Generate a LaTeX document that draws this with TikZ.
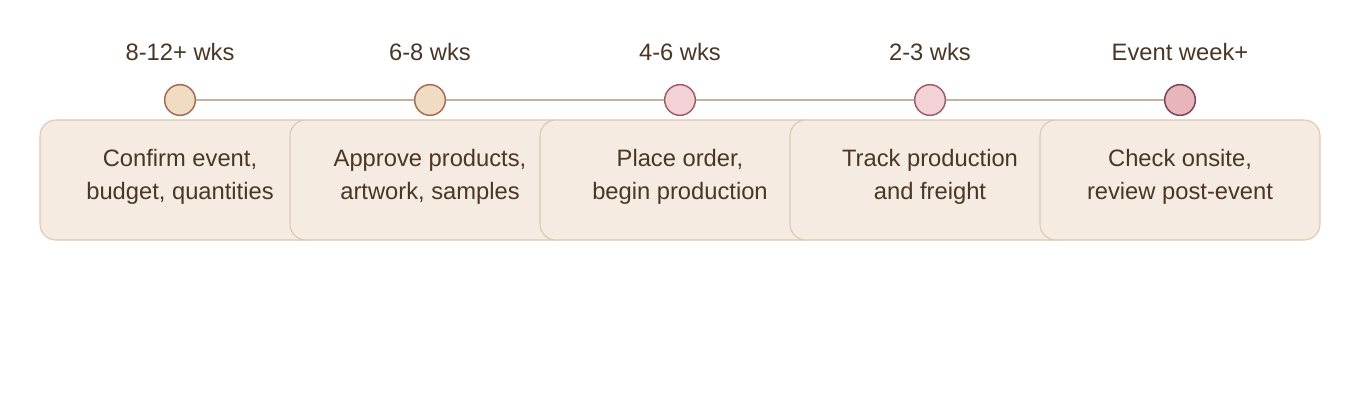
\documentclass[tikz,border=0pt]{standalone}
\usepackage{fontspec}
\setmainfont{Liberation Sans}
\usetikzlibrary{positioning}
\definecolor{ink}{HTML}{4A3626}
\definecolor{boxfill}{HTML}{F5EBE1}
\definecolor{boxline}{HTML}{D9C7B2}
\definecolor{rail}{HTML}{C6B19A}
\definecolor{tanfill}{HTML}{F0DBC3}
\definecolor{tanline}{HTML}{A36B55}
\definecolor{rosefill}{HTML}{F2D1D7}
\definecolor{roseline}{HTML}{9C5C6B}
\definecolor{deepfill}{HTML}{E8B5BD}
\definecolor{deepline}{HTML}{7A4552}
\tikzset {
    style A/.style={
        fill=boxfill,
        draw=boxline,
        line width=0.8pt,
        rectangle, % the step card
        rounded corners=12pt,
        minimum width=210pt,
        minimum height=90pt,
        inner sep=0pt,
    },
    style B/.style={
        fill=tanfill,
        draw=tanline,
        line width=1.1pt,
        circle,
        minimum size=23pt,
        inner sep=0pt,
    },
    style C/.style={
        style B,
        fill=rosefill,
        draw=roseline,
    },
    style D/.style={
        style B,
        fill=deepfill,
        draw=deepline,
    },
    style T/.style={
        text=ink,
        align=center,
        font=\fontsize{17.8}{24.75}\selectfont,
    },
}
\begin{document}
\begin{tikzpicture}
[x=0.75pt, y=-0.75pt]
\useasboundingbox (0,0) rectangle (1360,400);

\node[style T] at (180, 52) (when1) {8-12+ wks};
\node[style T] at (430, 52) (when2) {6-8 wks};
\node[style T] at (680, 52) (when3) {4-6 wks};
\node[style T] at (930, 52) (when4) {2-3 wks};
\node[style T] at (1180, 52) (when5) {Event week+};

\node[style B] at (180, 100) (dot1) {};
\node[style B] at (430, 100) (dot2) {};
\node[style C] at (680, 100) (dot3) {};
\node[style C] at (930, 100) (dot4) {};
\node[style D] at (1180, 100) (dot5) {};

\draw[rail, line width=1.5pt] (dot1) -- (dot2);
\draw[rail, line width=1.5pt] (dot2) -- (dot3);
\draw[rail, line width=1.5pt] (dot3) -- (dot4);
\draw[rail, line width=1.5pt] (dot4) -- (dot5);

\node[style A] at (180, 180) (card1) {};
\node[style T] at (180, 177) (step1) {Confirm event,\\budget, quantities};
\node[style A] at (430, 180) (card2) {};
\node[style T] at (430, 177) (step2) {Approve products,\\artwork, samples};
\node[style A] at (680, 180) (card3) {};
\node[style T] at (680, 177) (step3) {Place order,\\begin production};
\node[style A] at (930, 180) (card4) {};
\node[style T] at (930, 177) (step4) {Track production\\and freight};
\node[style A] at (1180, 180) (card5) {};
\node[style T] at (1180, 177) (step5) {Check onsite,\\review post-event};
\end{tikzpicture}
\end{document}
